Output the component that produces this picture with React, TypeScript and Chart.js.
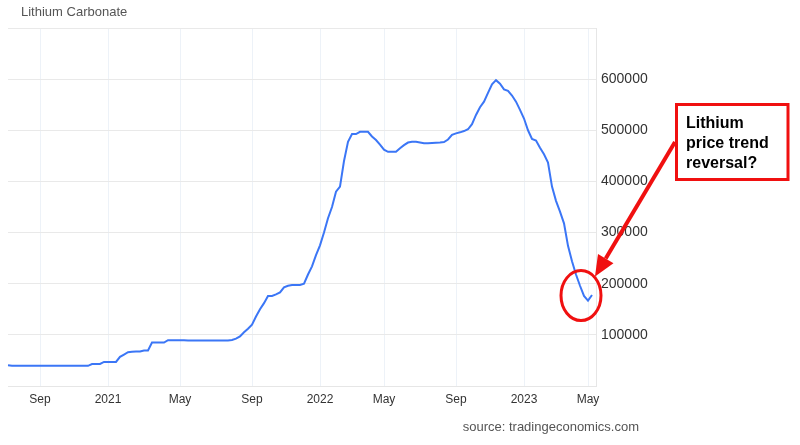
import React, { useEffect, useRef } from 'react';
import { Chart, registerables } from 'chart.js';

Chart.register(...registerables);

// Lithium carbonate price (CNY/T), roughly weekly trading samples, Jul 2020 – Apr 2023
const prices: number[] = [
  40500, 39500, 39500, 39500, 39500, 39500, 39500, 39500, 39500, 39500,
  39500, 39500, 39500, 39500, 39500, 39500, 39500, 39500, 39500, 39500,
  39500, 43000, 43000, 43000, 47000, 47000, 47000, 47000, 57000, 61500,
  66000, 67000, 67500, 67500, 69300, 69300, 85000, 85000, 85000, 85000,
  89600, 89600, 89600, 89600, 89600, 89000, 89000, 89000, 89000, 89000,
  89000, 89000, 89000, 89000, 89000, 89000, 90000, 92500, 97000, 105000,
  112000, 120000, 136000, 150000, 162000, 176000, 176000, 179000, 183000, 193000,
  196000, 197500, 197500, 197500, 200000, 218000, 234000, 256000, 275000, 300000,
  328000, 350000, 380000, 390000, 440000, 477500, 492500, 492500, 497000, 497000,
  497000, 488000, 481000, 472000, 462000, 458000, 458000, 458000, 465000, 471000,
  476000, 477500, 477500, 476000, 474500, 474500, 475000, 475500, 476000, 477000,
  482000, 491000, 494000, 496000, 498500, 502000, 512000, 530000, 545000, 556000,
  573000, 590000, 598000, 591000, 580000, 577000, 568000, 556000, 540000, 523000,
  500000, 483000, 480000, 466000, 453000, 437000, 390000, 362000, 341000, 318000,
  274000, 244000, 218000, 196000, 176000, 167000, 178000,
];

// x-axis slots (one per sample, plus trailing empty slot) and month tick labels
const slotCount = 148;
const tickIndex: number[] = [8, 25, 43, 61, 78, 94, 112, 129, 145];
const tickText: string[] = ['Sep', '2021', 'May', 'Sep', '2022', 'May', 'Sep', '2023', 'May'];

const yMin = 0;
const yMax = 700000;
const yStep = 100000;

const titleText = 'Lithium Carbonate';
const sourceText = 'source: tradingeconomics.com';
const noteLines: string[] = ['Lithium', 'price trend', 'reversal?'];

const labels: string[] = Array.from({ length: slotCount }, (_, i) => {
  const k = tickIndex.indexOf(i);
  return k >= 0 ? tickText[k] : '';
});

const FONT = '"Liberation Sans", Arial, sans-serif';

const decorPlugin = {
  id: 'decor',
  afterDraw(chart: any) {
    const ctx = chart.ctx as CanvasRenderingContext2D;
    const xs = chart.scales.x;
    const ys = chart.scales.y;
    ctx.save();
    // title
    ctx.fillStyle = '#555';
    ctx.font = `13px ${FONT}`;
    ctx.textBaseline = 'middle';
    ctx.textAlign = 'left';
    ctx.fillText(titleText, 21, 12);
    // source
    ctx.textAlign = 'right';
    ctx.fillText(sourceText, 639, 427);

    // red ellipse around the latest low (lowest point after the peak)
    let peakI = 0;
    for (let i = 0; i < prices.length; i++) if (prices[i] > prices[peakI]) peakI = i;
    let minI = peakI;
    for (let i = peakI; i < prices.length; i++) if (prices[i] < prices[minI]) minI = i;
    const cx = xs.getPixelForValue(minI) - 7;
    const cy = ys.getPixelForValue(prices[minI]) - 5;
    ctx.strokeStyle = '#f01010';
    ctx.lineWidth = 3;
    ctx.beginPath();
    ctx.ellipse(cx, cy, 20, 25, 0, 0, Math.PI * 2);
    ctx.stroke();

    // annotation box
    ctx.fillStyle = '#fff';
    ctx.fillRect(676, 104, 112, 76);
    ctx.lineWidth = 3;
    ctx.strokeRect(676.5, 104.5, 111.5, 75);
    ctx.fillStyle = '#000';
    ctx.font = `bold 16px ${FONT}`;
    ctx.textAlign = 'left';
    noteLines.forEach((t, i) => ctx.fillText(t, 686, 124 + i * 20));

    // arrow
    const sx = 675, sy = 142;
    const tx = cx + 14, ty = cy - 19;
    const dx = tx - sx, dy = ty - sy;
    const len = Math.hypot(dx, dy);
    const ux = dx / len, uy = dy / len;
    const head = 21, half = 9;
    const bx = tx - ux * head, by = ty - uy * head;
    ctx.lineWidth = 4;
    ctx.beginPath();
    ctx.moveTo(sx, sy);
    ctx.lineTo(bx, by);
    ctx.stroke();
    ctx.fillStyle = '#f01010';
    ctx.beginPath();
    ctx.moveTo(tx, ty);
    ctx.lineTo(bx - uy * half, by + ux * half);
    ctx.lineTo(bx + uy * half, by - ux * half);
    ctx.closePath();
    ctx.fill();
    ctx.restore();
  },
};

export default function App() {
  const ref = useRef<HTMLCanvasElement | null>(null);
  useEffect(() => {
    if (!ref.current) return;
    const chart = new Chart(ref.current, {
      type: 'line',
      data: {
        labels,
        datasets: [
          {
            data: prices,
            borderColor: '#3b76f6',
            borderWidth: 2,
            pointRadius: 0,
            tension: 0,
            fill: false,
          },
        ],
      },
      options: {
        animation: false,
        responsive: false,
        maintainAspectRatio: false,
        layout: { padding: { left: 8, top: 28, right: 0, bottom: 0 } },
        plugins: {
          legend: { display: false },
          tooltip: { enabled: false },
          title: { display: false },
        },
        scales: {
          x: {
            type: 'category',
            offset: false,
            afterFit: (s: any) => {
              s.height = 59;
            },
            grid: {
              drawTicks: false,
              color: (c: any) => (labels[c.index] ? '#edf2f8' : 'rgba(0,0,0,0)'),
              lineWidth: 1,
            },
            border: { display: true, color: '#e6e6e6' },
            ticks: {
              autoSkip: false,
              maxRotation: 0,
              minRotation: 0,
              padding: 6,
              color: '#333',
              font: { family: FONT, size: 12 },
              callback: (_v: any, i: number) => labels[i],
            },
          },
          y: {
            position: 'right',
            min: yMin,
            max: yMax,
            afterFit: (s: any) => {
              s.width = 204;
            },
            grid: { drawTicks: false, color: '#e9e9e9' },
            border: { display: true, color: '#e6e6e6' },
            ticks: {
              stepSize: yStep,
              padding: 5,
              color: '#333',
              font: { family: FONT, size: 14 },
              callback: (v: any) => (v === yMin || v === yMax ? '' : String(v)),
            },
          },
        },
      },
      plugins: [decorPlugin],
    });
    return () => chart.destroy();
  }, []);
  return (
    <div style={{ position: 'absolute', left: 0, top: 0, width: 800, height: 445, background: '#fff' }}>
      <canvas ref={ref} width={800} height={445} style={{ display: 'block' }} />
    </div>
  );
}
